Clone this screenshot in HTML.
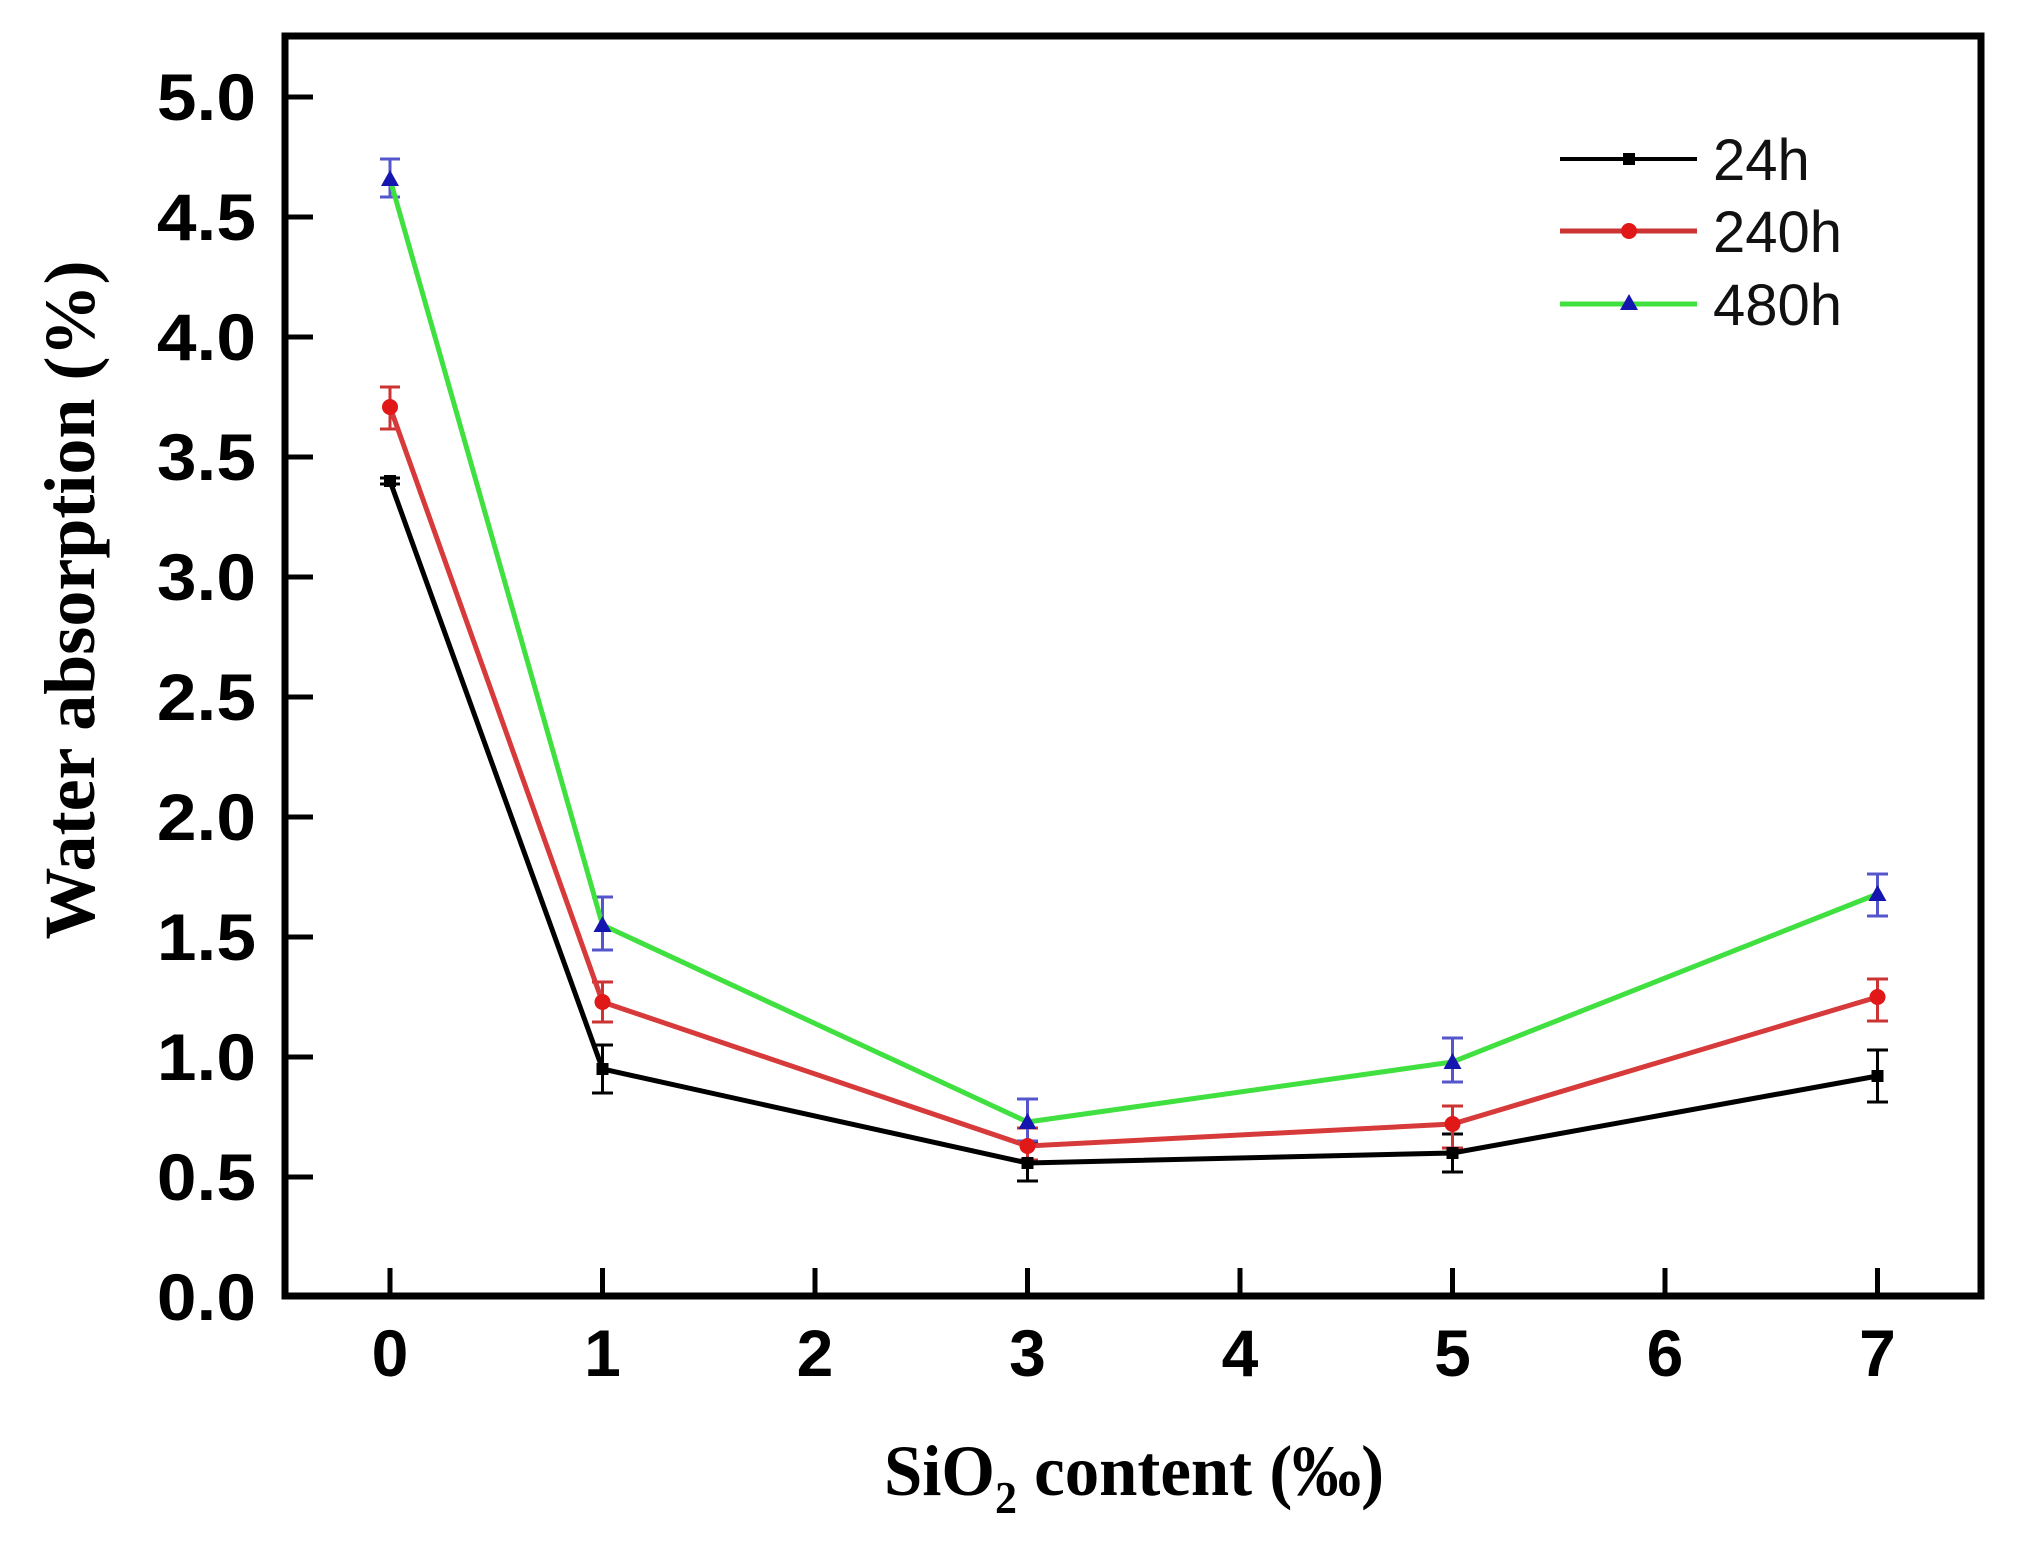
<!DOCTYPE html>
<html><head><meta charset="utf-8"><style>html,body{margin:0;padding:0;background:#fff;}</style></head>
<body>
<svg width="2021" height="1550" viewBox="0 0 2021 1550" xmlns="http://www.w3.org/2000/svg">
<rect width="2021" height="1550" fill="#fff"/>
<g stroke="#000" stroke-width="5">
<line x1="285" y1="1297" x2="313" y2="1297"/>
<line x1="285" y1="1177" x2="313" y2="1177"/>
<line x1="285" y1="1057" x2="313" y2="1057"/>
<line x1="285" y1="937" x2="313" y2="937"/>
<line x1="285" y1="817" x2="313" y2="817"/>
<line x1="285" y1="697" x2="313" y2="697"/>
<line x1="285" y1="577" x2="313" y2="577"/>
<line x1="285" y1="457" x2="313" y2="457"/>
<line x1="285" y1="337" x2="313" y2="337"/>
<line x1="285" y1="217" x2="313" y2="217"/>
<line x1="285" y1="97" x2="313" y2="97"/>
<line x1="390" y1="1295" x2="390" y2="1268"/>
<line x1="602.5" y1="1295" x2="602.5" y2="1268"/>
<line x1="815" y1="1295" x2="815" y2="1268"/>
<line x1="1027.5" y1="1295" x2="1027.5" y2="1268"/>
<line x1="1240" y1="1295" x2="1240" y2="1268"/>
<line x1="1452.5" y1="1295" x2="1452.5" y2="1268"/>
<line x1="1665" y1="1295" x2="1665" y2="1268"/>
<line x1="1877.5" y1="1295" x2="1877.5" y2="1268"/>
</g>
<rect x="285" y="36" width="1696" height="1260" fill="none" stroke="#000" stroke-width="7"/>
<g font-family="Liberation Sans, Arial, sans-serif" font-weight="bold" font-size="66" fill="#000" text-anchor="end" transform="translate(256,0) scale(1.08,1) translate(-256,0)">
<text x="256" y="1320">0.0</text><text x="256" y="1200">0.5</text><text x="256" y="1080">1.0</text>
<text x="256" y="960">1.5</text><text x="256" y="840">2.0</text><text x="256" y="720">2.5</text>
<text x="256" y="600">3.0</text><text x="256" y="480">3.5</text><text x="256" y="360">4.0</text>
<text x="256" y="240">4.5</text><text x="256" y="120">5.0</text>
</g>
<g font-family="Liberation Sans, Arial, sans-serif" font-weight="bold" font-size="66" fill="#000" text-anchor="middle">
<text x="390" y="1376">0</text><text x="602.5" y="1376">1</text><text x="815" y="1376">2</text>
<text x="1027.5" y="1376">3</text><text x="1240" y="1376">4</text><text x="1452.5" y="1376">5</text>
<text x="1665" y="1376">6</text><text x="1877.5" y="1376">7</text>
</g>
<text transform="translate(94,600) rotate(-90)" font-family="Liberation Serif, serif" font-weight="bold" font-size="72" text-anchor="middle" textLength="679" lengthAdjust="spacingAndGlyphs">Water absorption (%)</text>
<text x="884" y="1495" font-family="Liberation Serif, serif" font-weight="bold" font-size="72" textLength="500" lengthAdjust="spacingAndGlyphs">SiO<tspan font-size="46" dy="18">2</tspan><tspan dy="-18"> content (‰)</tspan></text>
<g stroke-width="3" fill="none">
<g stroke="#000">
<path d="M390 478v6M380 478h20M380 484h20"/>
<path d="M602.5 1045v48M592 1045h21M592 1093h21"/>
<path d="M1027.5 1143v38M1017 1143h21M1017 1181h21"/>
<path d="M1452.5 1134v38M1442 1134h21M1442 1172h21"/>
<path d="M1877.5 1050v52M1867 1050h21M1867 1102h21"/>
</g>
<g stroke="#c33">
<path d="M390 387v42M380 387h20M380 429h20"/>
<path d="M602.5 982v40M592 982h21M592 1022h21"/>
<path d="M1027.5 1128v32M1017 1128h21M1017 1160h21"/>
<path d="M1452.5 1106v42M1442 1106h21M1442 1148h21"/>
<path d="M1877.5 979v42M1867 979h21M1867 1021h21"/>
</g>
<g stroke="#55c">
<path d="M390 159v38M380 159h20M380 197h20"/>
<path d="M602.5 897v53M592 897h21M592 950h21"/>
<path d="M1027.5 1099v42M1017 1099h21M1017 1141h21"/>
<path d="M1452.5 1038v44M1442 1038h21M1442 1082h21"/>
<path d="M1877.5 874v42M1867 874h21M1867 916h21"/>
</g>
</g>
<polyline fill="none" stroke="#000" stroke-width="5" points="390,481 602.5,1069 1027.5,1163 1452.5,1153 1877.5,1076"/>
<polyline fill="none" stroke="#d63a3a" stroke-width="5" points="390,407 602.5,1002 1027.5,1146 1452.5,1124 1877.5,997"/>
<polyline fill="none" stroke="#3fe03f" stroke-width="5" points="390,179 602.5,925 1027.5,1122 1452.5,1062 1877.5,894"/>
<g fill="#000">
<rect x="384" y="475" width="12" height="12"/><rect x="596.5" y="1063" width="12" height="12"/>
<rect x="1021.5" y="1157" width="12" height="12"/><rect x="1446.5" y="1147" width="12" height="12"/>
<rect x="1871.5" y="1070" width="12" height="12"/>
</g>
<g fill="#e01818">
<circle cx="390" cy="407" r="8"/><circle cx="602.5" cy="1002" r="8"/><circle cx="1027.5" cy="1146" r="8"/>
<circle cx="1452.5" cy="1124" r="8"/><circle cx="1877.5" cy="997" r="8"/>
</g>
<g fill="#1515b0">
<path d="M390 170l9 16h-18z"/><path d="M602.5 916l9 16h-18z"/><path d="M1027.5 1113l9 16h-18z"/>
<path d="M1452.5 1053l9 16h-18z"/><path d="M1877.5 885l9 16h-18z"/>
</g>
<line x1="1560" y1="159" x2="1697" y2="159" stroke="#000" stroke-width="4"/>
<rect x="1623" y="153" width="12" height="12" fill="#000"/>
<line x1="1560" y1="231" x2="1697" y2="231" stroke="#c33" stroke-width="5"/>
<circle cx="1629" cy="231" r="8" fill="#e01818"/>
<line x1="1560" y1="304" x2="1697" y2="304" stroke="#3fe03f" stroke-width="5"/>
<path d="M1629 294l9 16h-18z" fill="#1515b0"/>
<g font-family="Liberation Sans, Arial, sans-serif" font-size="58" fill="#111">
<text x="1713" y="180">24h</text><text x="1713" y="252">240h</text><text x="1713" y="325">480h</text>
</g>
</svg>
</body></html>
